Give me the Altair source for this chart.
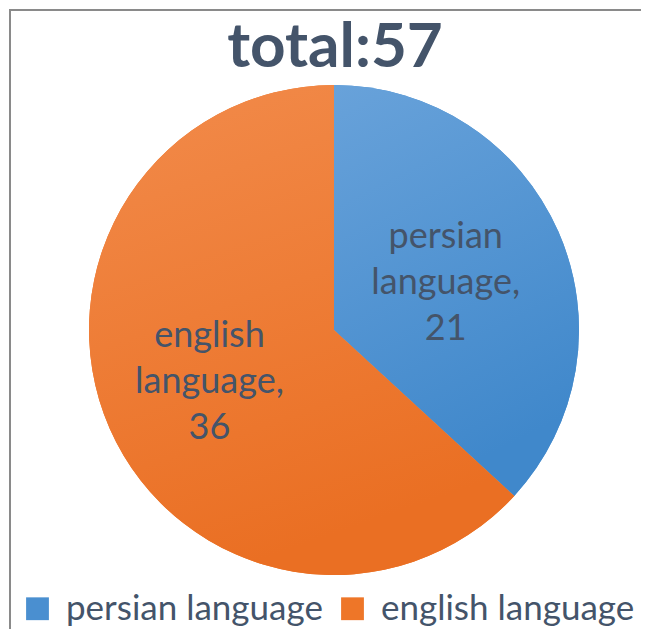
import math
import altair as alt
import pandas as pd

# ---- data ----
languages = ["persian language", "english language"]
short_names = ["persian", "english"]
counts = [21, 36]
title_text = "total:57"

df = pd.DataFrame({"language": languages, "short": short_names,
                   "count": counts, "idx": list(range(len(counts)))})
total = sum(counts)

W, H = 633, 621
CX, CY, R = 326, 322, 245
FONT = "Lato"
INK = "#44546A"

blue_grad = {"gradient": "linear", "x1": 0, "y1": 0, "x2": 0.3, "y2": 1,
             "stops": [{"offset": 0, "color": "#68A2DA"},
                       {"offset": 1, "color": "#4088CB"}]}
orange_grad = {"gradient": "linear", "x1": 0, "y1": 0, "x2": 0.3, "y2": 1,
               "stops": [{"offset": 0, "color": "#F28B4B"},
                         {"offset": 1, "color": "#EA6F23"}]}

theta_scale = alt.Scale(domain=[0, total], range=[0, 2 * math.pi])

base = alt.Chart(df).transform_window(
    end="sum(count)", sort=[alt.SortField("idx")], frame=[None, 0]
).transform_calculate(
    start="datum.end - datum.count",
    mid="datum.end - datum.count / 2",
    label="[datum.short, 'language,', '' + datum.count]",
)

enc = dict(
    theta=alt.Theta("start:Q", scale=theta_scale),
    theta2="end:Q",
    x=alt.value(CX),
    y=alt.value(CY),
)

legend_arc = base.mark_arc(radius=R, strokeWidth=0).encode(
    color=alt.Color("language:N",
                    scale=alt.Scale(domain=languages, range=["#4A8FD0", "#EE7628"]),
                    legend=alt.Legend(title=None, orient="none", legendX=12, legendY=583,
                                      padding=0, offset=0,
                                      direction="horizontal", symbolType="square",
                                      symbolSize=520, symbolStrokeWidth=0,
                                      labelFont=FONT, labelFontSize=35, labelColor=INK,
                                      labelOffset=11, columnPadding=12, labelLimit=400)),
    **enc,
)

blue_arc = base.transform_filter(f"datum.language == '{languages[0]}'").mark_arc(
    radius=R, fill=blue_grad, strokeWidth=0).encode(**enc)
orange_arc = base.transform_filter(f"datum.language == '{languages[1]}'").mark_arc(
    radius=R, fill=orange_grad, strokeWidth=0).encode(**enc)

def label_layer(name, rad, dy):
    return base.transform_filter(f"datum.language == '{name}'").mark_text(
        radius=rad, font=FONT, fontSize=36, color=INK, lineHeight=46, dy=dy,
        align="center", baseline="middle").encode(
        theta=alt.Theta("mid:Q", scale=theta_scale),
        text="label:N",
        x=alt.value(CX), y=alt.value(CY))

labels_p = label_layer(languages[0], 122, -44)
labels_e = label_layer(languages[1], 136, -49)

title = alt.Chart(pd.DataFrame({"t": [title_text]})).mark_text(
    font=FONT, fontSize=62, fontWeight="bold", color=INK,
    align="center", baseline="middle").encode(
    text="t:N", x=alt.value(327), y=alt.value(40))

frame_df = pd.DataFrame({"k": [0]})
left_rule = alt.Chart(frame_df).mark_rule(color="#8A8A8A", strokeWidth=2).encode(
    x=alt.value(2), y=alt.value(2), y2=alt.value(H))
top_rule = alt.Chart(frame_df).mark_rule(color="#8A8A8A", strokeWidth=2).encode(
    x=alt.value(1), x2=alt.value(W), y=alt.value(2))

chart = alt.layer(
    legend_arc, blue_arc, orange_arc, labels_p, labels_e, title, left_rule, top_rule
).properties(
    width=W, height=H, padding=0, autosize=alt.AutoSizeParams(type="none"),
    background="white",
).configure_view(stroke=None)

chart.save("out.html", embed_options={"renderer": "svg", "actions": False})
